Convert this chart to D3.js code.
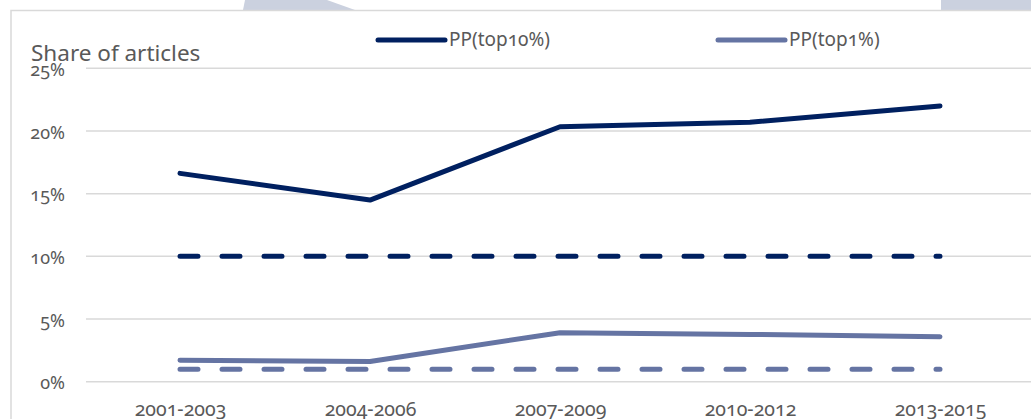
<!DOCTYPE html>
<html><head><meta charset="utf-8">
<script src="https://cdn.jsdelivr.net/npm/d3@7"></script>
<style>
html,body{margin:0;padding:0;background:#fff;overflow:hidden}
svg text{font-family:"Noto Sans",sans-serif;fill:#595959;font-variant-numeric:oldstyle-nums;font-feature-settings:"onum" 1}
</style></head>
<body><svg id="c" width="1031" height="419"></svg>
<script>
const categories = ["2001-2003","2004-2006","2007-2009","2010-2012","2013-2015"];
const top10 = [0.1662, 0.1449, 0.2034, 0.2070, 0.2200];
const top1 = [0.0171, 0.0161, 0.0391, 0.0377, 0.0359];
const ref10 = [0.10, 0.10, 0.10, 0.10, 0.10];
const ref1 = [0.01, 0.01, 0.01, 0.01, 0.01];
const yTicks = [0, 0.05, 0.10, 0.15, 0.20, 0.25];
const seriesNames = ["PP(top10%)", "PP(top1%)"];
const colors = ["#002060", "#6574A3"];

const svg = d3.select("#c");
// background decoration shapes
svg.append("path").attr("d","M245,0 L327,0 L355,10 L243,10 Z").attr("fill","#cbd1df");
svg.append("rect").attr("x",941).attr("y",0).attr("width",90).attr("height",10).attr("fill","#cbd1df");
// chart frame
svg.append("rect").attr("x",11).attr("y",10.5).attr("width",1060).attr("height",500)
  .attr("fill","#fff").attr("stroke","#d9d9d9").attr("stroke-width",1.5);

const x = d3.scalePoint().domain(categories).range([180,940]);
const y = d3.scaleLinear().domain([0,0.25]).range([381.7,68.3]);

// gridlines
svg.append("g").selectAll("line").data(yTicks).join("line")
  .attr("x1",86).attr("x2",1040).attr("y1",d=>y(d)).attr("y2",d=>y(d))
  .attr("stroke","#d9d9d9").attr("stroke-width",1.5);

// y axis labels
const yAxis = d3.axisLeft(y).tickValues(yTicks).tickFormat(d=>Math.round(d*100)+"%").tickSize(0).tickPadding(0);
const ya = svg.append("g").attr("transform","translate(65,0)").call(yAxis);
ya.select(".domain").remove();
ya.selectAll("text").attr("font-size",18).attr("font-family",null).attr("fill",null).attr("dy","0.4em");

// x axis labels
const xAxis = d3.axisBottom(x).tickSize(0).tickPadding(0);
const xa = svg.append("g").attr("transform","translate(0,403)").call(xAxis);
xa.select(".domain").remove();
xa.selectAll("text").attr("font-size",19.5).attr("font-family",null).attr("fill",null).attr("dy","0.68em");

const line = d3.line().x((d,i)=>x(categories[i])).y(d=>y(d));
// reference dashed lines
[[ref10,colors[0]],[ref1,colors[1]]].forEach(([vals,c])=>{
  svg.append("path").datum(vals).attr("d",line).attr("fill","none").attr("stroke",c)
    .attr("stroke-width",5).attr("stroke-linecap","round").attr("stroke-dasharray","18 24");
});
[[top10,colors[0]],[top1,colors[1]]].forEach(([vals,c])=>{
  svg.append("path").datum(vals).attr("d",line).attr("fill","none").attr("stroke",c)
    .attr("stroke-width",5).attr("stroke-linecap","round").attr("stroke-linejoin","round");
});

// title
svg.append("text").attr("x",31).attr("y",61).attr("font-size",22.5).text("Share of articles");

// legend
const legX = [378, 718];
seriesNames.forEach((n,i)=>{
  svg.append("line").attr("x1",legX[i]).attr("x2",legX[i]+67).attr("y1",40).attr("y2",40)
    .attr("stroke",colors[i]).attr("stroke-width",5).attr("stroke-linecap","round");
  svg.append("text").attr("x",legX[i]+71).attr("y",46).attr("font-size",19).text(n);
});
</script></body></html>
